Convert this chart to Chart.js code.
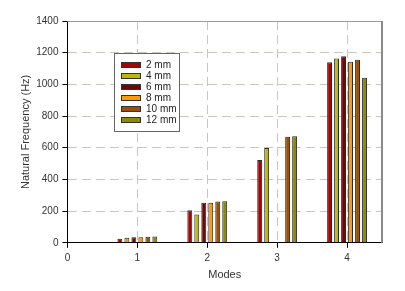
<!DOCTYPE html>
<html>
<head>
<meta charset="utf-8">
<script src="https://cdn.jsdelivr.net/npm/chart.js@4.4.1/dist/chart.umd.min.js"></script>
<style>
  html, body { margin: 0; padding: 0; background: #fff; }
  canvas { display: block; }
</style>
</head>
<body>
<canvas id="myChart" width="405" height="291"></canvas>
<script>
// Data
const modes = [1, 2, 3, 4];
const thicknessLabels = ['2 mm', '4 mm', '6 mm', '8 mm', '10 mm', '12 mm'];
const freq2mm = [26, 206, 522, 1139];
const freq4mm = [32, 179, 598, 1164];
const freq6mm = [35, 253, null, 1177];
const freq8mm = [35, 253, null, 1143];
const freq10mm = [38, 261, 669, 1156];
const freq12mm = [40, 263, 672, 1042];
const yTicks = [0, 200, 400, 600, 800, 1000, 1200, 1400];
const xTicks = [0, 1, 2, 3, 4];

const seriesValues = [freq2mm, freq4mm, freq6mm, freq8mm, freq10mm, freq12mm];
const seriesColors = ['#a00808', '#c0b808', '#700808', '#ff9a08', '#9e5008', '#8c8a00'];

const FONT = "'Liberation Sans', Arial, sans-serif";

// Chart frame (grey top/right lines)
const framePlugin = {
  id: 'frame',
  beforeDatasetsDraw(chart) {
    const { ctx, chartArea: a } = chart;
    ctx.save();
    ctx.strokeStyle = '#9a9a9a';
    ctx.lineWidth = 1;
    ctx.beginPath();
    ctx.moveTo(a.left, a.top + 0.5);
    ctx.lineTo(a.right, a.top + 0.5);
    ctx.stroke();
    ctx.lineWidth = 2;
    ctx.strokeStyle = '#8a8a8a';
    ctx.beginPath();
    ctx.moveTo(a.right, a.top);
    ctx.lineTo(a.right, a.bottom);
    ctx.stroke();
    ctx.restore();
  }
};

// Boxed legend inside the plot
const boxLegend = {
  id: 'boxLegend',
  afterDraw(chart) {
    const { ctx } = chart;
    const x = 114.5, y = 53.5, w = 65, h = 78;
    ctx.save();
    ctx.fillStyle = '#fff';
    ctx.fillRect(x, y, w, h);
    ctx.strokeStyle = '#666';
    ctx.lineWidth = 1;
    ctx.strokeRect(x, y, w, h);
    ctx.font = '10px ' + FONT;
    ctx.textBaseline = 'middle';
    chart.data.datasets.forEach((ds, i) => {
      const cy = 64.5 + i * 11.1;
      ctx.fillStyle = ds.backgroundColor;
      ctx.fillRect(121, Math.round(cy - 3), 20, 6);
      ctx.strokeStyle = '#333';
      ctx.strokeRect(121.5, Math.round(cy - 3) + 0.5, 19, 5);
      ctx.fillStyle = '#222';
      ctx.fillText(ds.label, 146, cy + 0.5);
    });
    ctx.restore();
  }
};

const ctx = document.getElementById('myChart');

new Chart(ctx, {
  type: 'bar',
  data: {
    datasets: thicknessLabels.map((label, i) => ({
      label: label,
      data: modes.map((m, j) => ({ x: m, y: seriesValues[i][j] })),
      backgroundColor: seriesColors[i],
      borderColor: '#2a2a2a',
      borderWidth: 1,
      categoryPercentage: 0.6,
      barPercentage: 0.7
    }))
  },
  options: {
    responsive: false,
    animation: false,
    layout: { padding: { left: 11, top: 21, right: 23, bottom: 2 } },
    plugins: {
      legend: { display: false },
      tooltip: { enabled: false }
    },
    scales: {
      x: {
        type: 'linear',
        min: 0,
        max: 4.5,
        offset: false,
        afterBuildTicks: (scale) => { scale.ticks = xTicks.map(v => ({ value: v })); },
        grid: {
          offset: false,
          color: (c) => (c.tick && c.tick.value === 0) ? 'rgba(0,0,0,0)' : '#c9c6be',
          tickColor: '#000',
          tickLength: 5,
          lineWidth: 1
        },
        border: { color: '#000', width: 1, dash: [9, 5] },
        ticks: {
          color: '#333',
          font: { family: FONT, size: 10 },
          padding: 4,
          maxRotation: 0,
          callback: (v) => String(v)
        },
        title: {
          display: true,
          text: 'Modes',
          color: '#333',
          font: { family: FONT, size: 11 },
          padding: { top: 1, bottom: 7 }
        }
      },
      y: {
        min: 0,
        max: 1400,
        afterBuildTicks: (scale) => { scale.ticks = yTicks.map(v => ({ value: v })); },
        grid: {
          color: (c) => (c.tick && (c.tick.value === 0 || c.tick.value === 1400)) ? 'rgba(0,0,0,0)' : '#c9c6be',
          tickColor: '#000',
          tickLength: 5,
          lineWidth: 1
        },
        border: { color: '#000', width: 1, dash: [9, 5] },
        ticks: {
          color: '#333',
          font: { family: FONT, size: 10 },
          padding: 4,
          callback: (v) => String(v)
        },
        title: {
          display: true,
          text: 'Natural Frequency (Hz)',
          color: '#333',
          font: { family: FONT, size: 11 },
          padding: { top: 8, bottom: 0 }
        }
      }
    }
  },
  plugins: [framePlugin, boxLegend]
});
</script>
</body>
</html>
